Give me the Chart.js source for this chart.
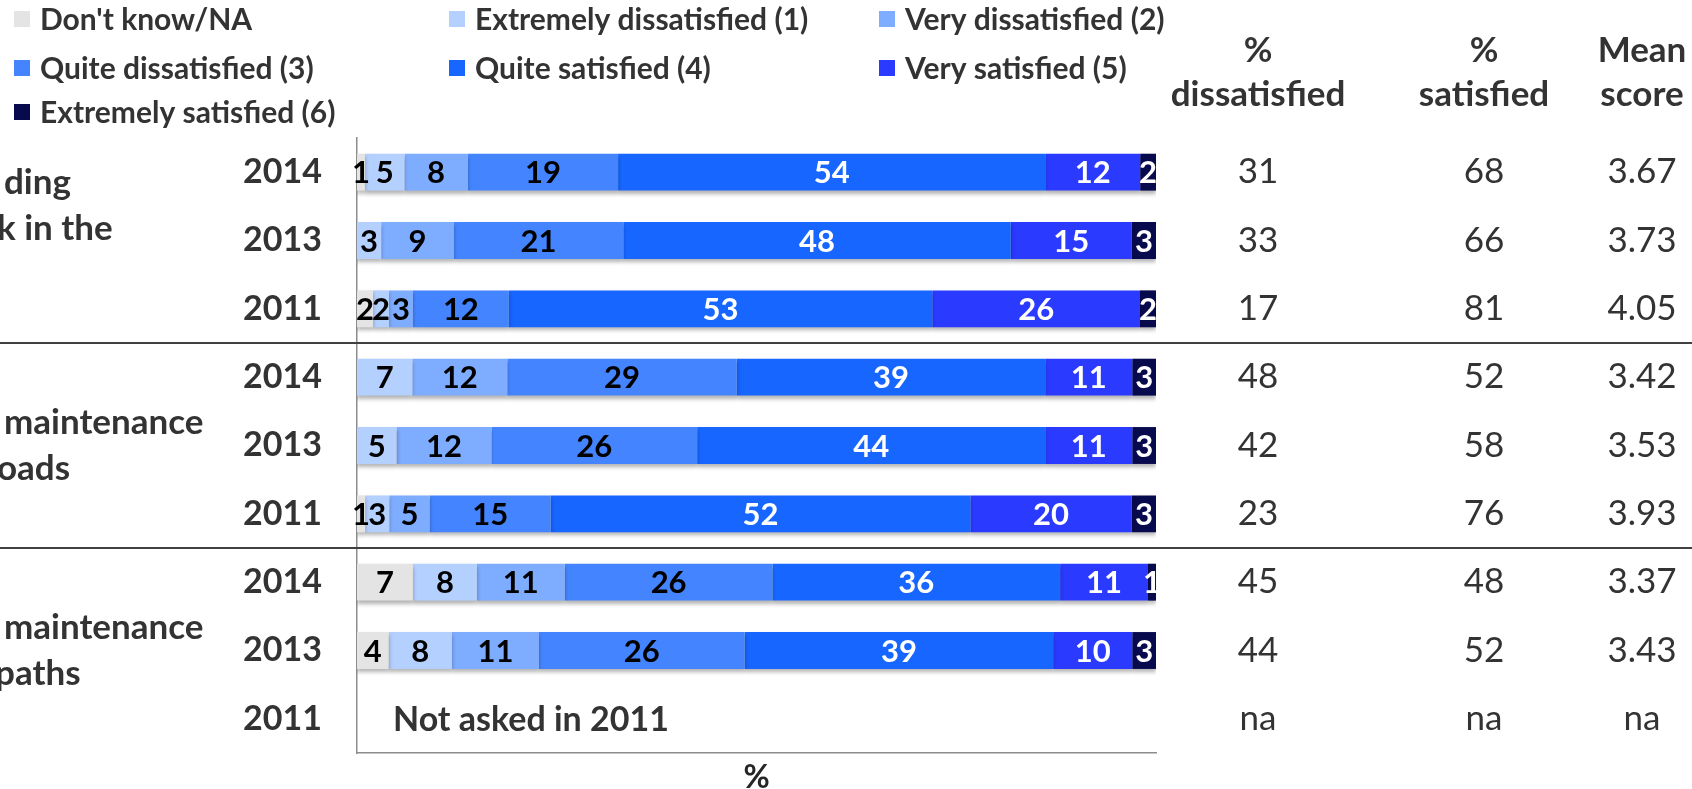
<!DOCTYPE html>
<html>
<head>
<meta charset="utf-8">
<script src="https://cdn.jsdelivr.net/npm/chart.js@4/dist/chart.umd.min.js"></script>
<style>
  html, body { margin: 0; padding: 0; background: #ffffff; }
  #wrap { width: 1692px; height: 789px; position: relative; }
</style>
</head>
<body>
<div id="wrap"><canvas id="c" width="1692" height="789"></canvas></div>
<script>
// ---------- DATA ----------
const categories = ['2014', '2013', '2011', '2014', '2013', '2011', '2014', '2013', '2011'];
const seriesNames = ["Don't know/NA", 'Extremely dissatisfied (1)', 'Very dissatisfied (2)',
  'Quite dissatisfied (3)', 'Quite satisfied (4)', 'Very satisfied (5)', 'Extremely satisfied (6)'];
const dontKnow  = [1, 0, 2, 0, 0, 1, 7, 4, null];
const extDis    = [5, 3, 2, 7, 5, 3, 8, 8, null];
const veryDis   = [8, 9, 3, 12, 12, 5, 11, 11, null];
const quiteDis  = [19, 21, 12, 29, 26, 15, 26, 26, null];
const quiteSat  = [54, 48, 53, 39, 44, 52, 36, 39, null];
const verySat   = [12, 15, 26, 11, 11, 20, 11, 10, null];
const extSat    = [2, 3, 2, 3, 3, 3, 1, 3, null];
const pctDissatisfied = ['31', '33', '17', '48', '42', '23', '45', '44', 'na'];
const pctSatisfied    = ['68', '66', '81', '52', '58', '76', '48', '52', 'na'];
const meanScore       = ['3.67', '3.73', '4.05', '3.42', '3.53', '3.93', '3.37', '3.43', 'na'];
const tableHeaders = [['%', 'dissatisfied'], ['%', 'satisfied'], ['Mean', 'score']];
const groupLabels = [['ding', 'k in the'], ['maintenance', 'oads'], ['maintenance', 'paths']];
const notAskedText = 'Not asked in 2011';
const axisTitle = '%';

// ---------- STYLE ----------
const FONT = 'Lato, "Open Sans", sans-serif';
const TEXT = '#333333';
const colors = ['#e4e4e4', '#b3d0ff', '#7eacff', '#4485ff', '#1766ff', '#2a3aff', '#080a4e'];
const labelColors = ['#000', '#000', '#000', '#000', '#fff', '#fff', '#fff'];

const allSeries = [dontKnow, extDis, veryDis, quiteDis, quiteSat, verySat, extSat];
const totals = categories.map((_, i) => allSeries.reduce((s, arr) => s + (arr[i] || 0), 0));

const datasets = allSeries.map((arr, k) => ({
  label: seriesNames[k],
  rawValues: arr,
  data: arr.map((v, i) => (v === null || totals[i] === 0) ? null : v / totals[i] * 100),
  backgroundColor: colors[k],
  borderWidth: 0,
  categoryPercentage: 1,
  barPercentage: 0.54
}));

// ---------- PLUGINS ----------
const shadowPlugin = {
  id: 'shadow',
  beforeDatasetsDraw(chart) {
    const ctx = chart.ctx;
    ctx.save();
    ctx.shadowColor = 'rgba(0,0,0,0.30)';
    ctx.shadowBlur = 4;
    ctx.shadowOffsetY = 3;
  },
  afterDatasetsDraw(chart) { chart.ctx.restore(); }
};

const overlayPlugin = {
  id: 'overlay',
  afterDraw(chart) {
    const ctx = chart.ctx;
    const y = chart.scales.y;
    const area = chart.chartArea;
    ctx.save();

    // bar value labels
    ctx.font = 'bold 31px ' + FONT;
    ctx.textAlign = 'center';
    ctx.textBaseline = 'middle';
    chart.data.datasets.forEach((ds, k) => {
      const meta = chart.getDatasetMeta(k);
      meta.data.forEach((el, i) => {
        const v = ds.rawValues[i];
        if (v === null || v === 0) return;
        ctx.fillStyle = labelColors[k];
        ctx.fillText(String(v), (el.x + el.base) / 2, el.y + 1);
      });
    });

    // separators between groups
    ctx.strokeStyle = '#404040';
    ctx.lineWidth = 2;
    [2, 5].forEach(i => {
      const yy = Math.round((y.getPixelForValue(i) + y.getPixelForValue(i + 1)) / 2);
      ctx.beginPath();
      ctx.moveTo(0, yy);
      ctx.lineTo(chart.width, yy);
      ctx.stroke();
    });

    // group labels (cropped at left edge in the original)
    ctx.fillStyle = TEXT;
    ctx.font = 'bold 35px ' + FONT;
    ctx.textAlign = 'left';
    ctx.textBaseline = 'middle';
    const gx = [[4, -3], [4, -3], [4, -5]];
    groupLabels.forEach((lines, g) => {
      const cy = y.getPixelForValue(g * 3 + 1);
      const startY = g === 0 ? cy - 58 : cy - 23;
      lines.forEach((t, j) => ctx.fillText(t, gx[g][j], startY + j * 46));
    });

    // not asked text
    ctx.font = 'bold 34px ' + FONT;
    ctx.fillText(notAskedText, area.left + 36, y.getPixelForValue(8) + 1);

    // table
    const colX = [1258, 1484, 1642];
    ctx.textAlign = 'center';
    ctx.font = 'bold 35px ' + FONT;
    tableHeaders.forEach((h, c) => {
      ctx.fillText(h[0], colX[c], 51);
      ctx.fillText(h[1], colX[c], 95);
    });
    ctx.font = '35px ' + FONT;
    const cols = [pctDissatisfied, pctSatisfied, meanScore];
    cols.forEach((arr, c) => {
      arr.forEach((t, i) => ctx.fillText(t, colX[c], y.getPixelForValue(i)));
    });

    // legend
    const lx = [14, 449, 879];
    const ly = [19, 68, 112];
    ctx.font = 'bold 30px ' + FONT;
    ctx.textAlign = 'left';
    chart.data.datasets.forEach((ds, k) => {
      const col = k % 3, row = Math.floor(k / 3);
      ctx.fillStyle = ds.backgroundColor;
      ctx.fillRect(lx[col], ly[row] - 8, 16, 16);
      ctx.fillStyle = TEXT;
      ctx.fillText(ds.label, lx[col] + 26, ly[row] + 1);
    });
    ctx.restore();
  }
};

// ---------- CHART ----------
new Chart(document.getElementById('c'), {
  type: 'bar',
  data: { labels: categories, datasets },
  plugins: [shadowPlugin, overlayPlugin],
  options: {
    responsive: false,
    animation: false,
    indexAxis: 'y',
    layout: { padding: { left: 0, right: 536, top: 138, bottom: 0 } },
    plugins: { legend: { display: false }, tooltip: { enabled: false } },
    scales: {
      x: {
        stacked: true, min: 0, max: 100,
        ticks: { display: false },
        grid: { display: false, drawTicks: false },
        border: { display: true, color: '#8c8c8c', width: 1.5 },
        title: { display: true, text: axisTitle, color: '#262626', padding: 0,
                 font: { family: FONT, size: 32, weight: 'bold', lineHeight: 0.7 } },
        afterFit(s) { s.height = 36; s.paddingLeft = 0; s.paddingRight = 0; }
      },
      y: {
        stacked: true,
        ticks: { color: TEXT, padding: 35, font: { family: FONT, size: 34, weight: 'bold' } },
        grid: { display: false, drawTicks: false },
        border: { display: true, color: '#8c8c8c', width: 1.5 },
        afterFit(s) { s.width = 357; s.paddingTop = 0; s.paddingBottom = 0; }
      }
    }
  }
});
</script>
</body>
</html>
